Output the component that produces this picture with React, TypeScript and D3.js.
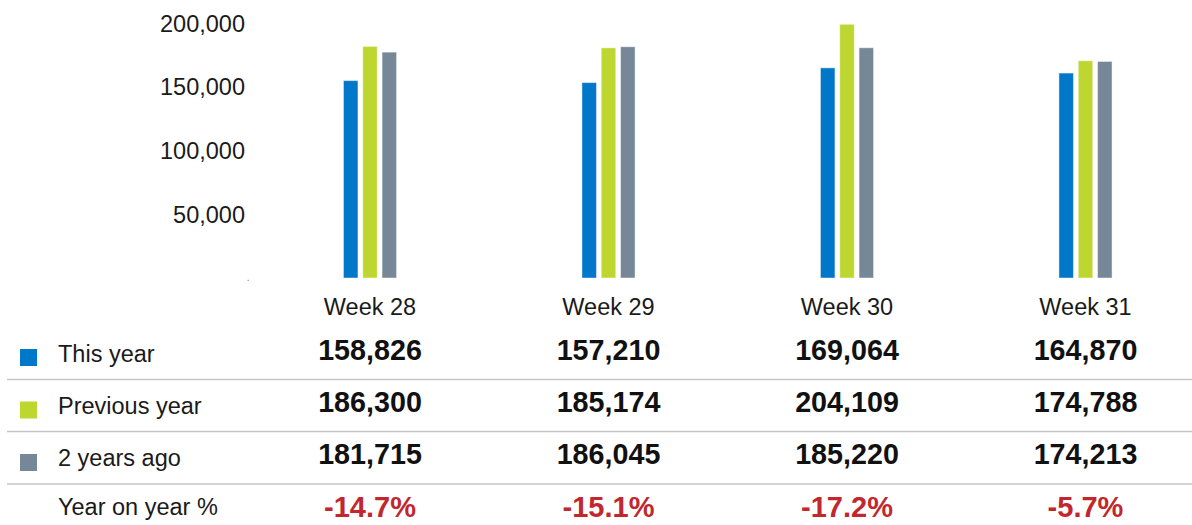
import React from "react";
import * as d3 from "d3";

const weeks = ["Week 28", "Week 29", "Week 30", "Week 31"];
const seriesNames = ["This year", "Previous year", "2 years ago"];
const thisYear = [158826, 157210, 169064, 164870];
const previousYear = [186300, 185174, 204109, 174788];
const twoYearsAgo = [181715, 186045, 185220, 174213];
const yearOnYear = ["-14.7%", "-15.1%", "-17.2%", "-5.7%"];
const yTicks = [50000, 100000, 150000, 200000];
const colors = ["#0077c8", "#bed630", "#768797"];

const W = 1192;
const H = 525;
const FONT = "'Liberation Sans', Arial, Helvetica, sans-serif";

export default function App() {
  const series = [thisYear, previousYear, twoYearsAgo];
  const x = d3.scalePoint<string>().domain(weeks).range([370, 1085.5]);
  const inner = d3
    .scaleBand<string>()
    .domain(seriesNames)
    .range([-26.55, 26.55])
    .paddingInner(0.249)
    .paddingOuter(0);
  const y = d3.scaleLinear().domain([0, 200000]).range([278, 29.4]);
  // tick label baselines
  const yLab = d3.scaleLinear().domain([0, 200000]).range([286.3, 31.7]);
  const fmt = d3.format(",");

  const rowBaselines = [361.5, 413.5, 466, 514.5];
  const valueBaselines = [359.5, 411.5, 464, 516.5];
  const lineYs = [379.5, 431.5, 484];
  const squareTops = [349, 401.5, 454];

  return (
    <svg
      width={W}
      height={H}
      style={{ position: "absolute", left: 0, top: 0, background: "#fff" }}
      fontFamily={FONT}
    >
      {/* y tick labels */}
      {yTicks.map((t) => (
        <text
          key={t}
          x={245}
          y={yLab(t)}
          textAnchor="end"
          fontSize={23.5}
          fill="#1a1a1a"
        >
          {fmt(t)}
        </text>
      ))}
      <rect x={247.5} y={yLab(0) - 6.5} width={1.5} height={1} fill="#999" />

      {/* bars */}
      {weeks.map((w, i) => (
        <g key={w} transform={`translate(${x(w)},0)`}>
          {series.map((s, j) => (
            <rect
              key={j}
              x={inner(seriesNames[j])!}
              y={y(s[i])}
              width={inner.bandwidth()}
              height={y(0) - y(s[i])}
              fill={colors[j]}
              stroke="rgba(255,255,255,0.45)"
              strokeWidth={1}
            />
          ))}
        </g>
      ))}

      {/* week labels */}
      {weeks.map((w) => (
        <text
          key={w}
          x={x(w)}
          y={315}
          textAnchor="middle"
          fontSize={23.5}
          fill="#1a1a1a"
        >
          {w}
        </text>
      ))}

      {/* table lines */}
      {lineYs.map((ly) => (
        <line
          key={ly}
          x1={7}
          x2={W}
          y1={ly}
          y2={ly}
          stroke="#c6c6c6"
          strokeWidth={1.6}
        />
      ))}

      {/* legend squares and row labels */}
      {seriesNames.map((n, j) => (
        <rect
          key={n}
          x={20}
          y={squareTops[j]}
          width={17}
          height={17}
          fill={colors[j]}
        />
      ))}
      {[...seriesNames, "Year on year %"].map((n, j) => (
        <text
          key={n}
          x={58}
          y={rowBaselines[j]}
          fontSize={23.5}
          fill="#1a1a1a"
        >
          {n}
        </text>
      ))}

      {/* values */}
      {series.map((s, j) =>
        weeks.map((w, i) => (
          <text
            key={`${j}-${i}`}
            x={x(w)}
            y={valueBaselines[j]}
            textAnchor="middle"
            fontSize={28.7}
            fontWeight="bold"
            fill="#111"
          >
            {fmt(s[i])}
          </text>
        ))
      )}
      {weeks.map((w, i) => (
        <text
          key={`yoy-${i}`}
          x={x(w)}
          y={valueBaselines[3]}
          textAnchor="middle"
          fontSize={29}
          fontWeight="bold"
          fill="#c1272d"
        >
          {yearOnYear[i]}
        </text>
      ))}
    </svg>
  );
}
